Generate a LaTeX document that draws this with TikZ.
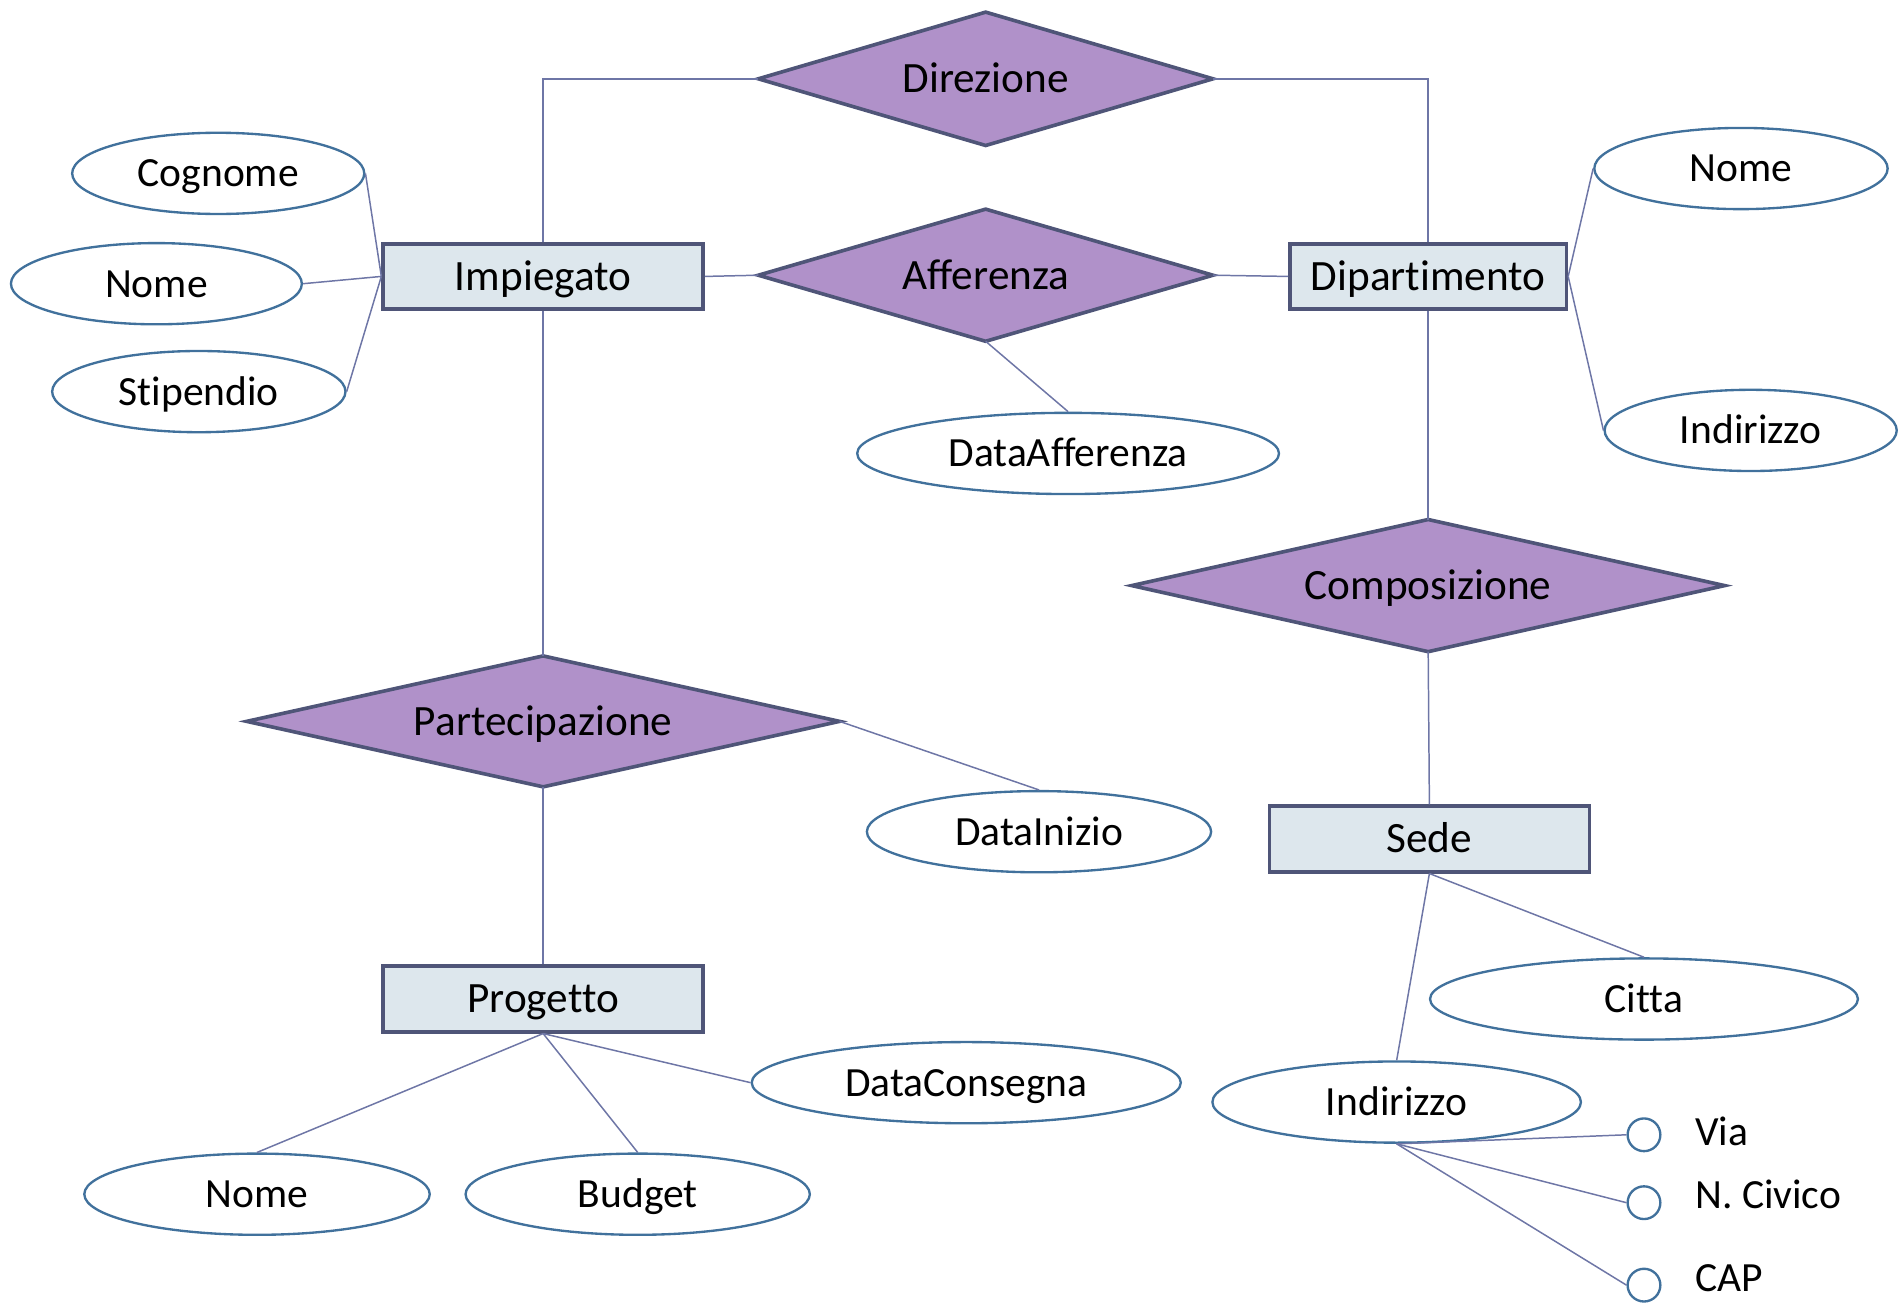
\documentclass[tikz,border=0pt]{standalone}
\usepackage{fontspec}
\setmainfont{Carlito}[Ligatures=NoCommon]
\usetikzlibrary{shapes.geometric}
\definecolor{relfill}{HTML}{B091C9}
\definecolor{shapeborder}{HTML}{4F5578}
\definecolor{entfill}{HTML}{DDE7ED}
\definecolor{ellborder}{HTML}{41719C}
\definecolor{linecol}{HTML}{6E76A6}
\tikzset{
  every node/.style={font=\fontsize{19.5}{23}\selectfont, inner sep=0pt, text height=12.6pt, text depth=0pt},
  boxfont/.style={font=\fontsize{20.3}{24}\selectfont, text height=13pt},
  entity/.style={rectangle, draw=shapeborder, fill=entfill, line width=1.7pt, minimum height=1.08cm, boxfont},
  relshape/.style={draw=shapeborder, fill=relfill, line width=1.7pt},
  reltext/.style={boxfont},
  attr/.style={ellipse, draw=ellborder, fill=white, line width=1.1pt, minimum height=1.34cm},
  subattr/.style={circle, draw=ellborder, fill=white, line width=1.1pt, minimum size=0.54cm, text height=0pt},
  conn/.style={draw=linecol, line width=0.7pt},
  lbl/.style={anchor=west}
}
% #1 name, #2 x, #3 y, #4 half width, #5 half height, #6 text
\newcommand\ERrel[6]{%
  \coordinate (#1N) at ({#2},{#3-#5});
  \coordinate (#1S) at ({#2},{#3+#5});
  \coordinate (#1W) at ({#2-#4},{#3});
  \coordinate (#1E) at ({#2+#4},{#3});
  \path[relshape] (#1N) -- (#1E) -- (#1S) -- (#1W) -- cycle;
  \node[reltext] (#1) at ({#2},{#3}) {#6};
}
\begin{document}
\begin{tikzpicture}[x=0.02cm, y=-0.02cm]
\useasboundingbox (0,0) rectangle (1568,1076);
% entities
\node[entity, minimum width=5.28cm] (imp) at (448,228) {Impiegato};
\node[entity, minimum width=4.56cm] (dip) at (1178,228) {Dipartimento};
\node[entity, minimum width=5.28cm] (prog) at (448,824) {Progetto};
\node[entity, minimum width=5.28cm] (sede) at (1179,692) {Sede};
% relationships
\ERrel{dir}{813}{65}{187.5}{55}{Direzione}
\ERrel{aff}{813}{227}{187.5}{54.5}{Afferenza}
\ERrel{comp}{1178}{483}{244.5}{54.5}{Composizione}
\ERrel{part}{448}{595}{244.5}{54}{Partecipazione}
% attributes
\node[attr, minimum width=4.82cm] (cog) at (180,143) {Cognome};
\node[attr, minimum width=4.80cm] (nomeL) at (129,234) {Nome};
\node[attr, minimum width=4.84cm] (stip) at (164,323) {Stipendio};
\node[attr, minimum width=6.96cm] (daff) at (881,374) {DataAfferenza};
\node[attr, minimum width=4.84cm] (nomeR) at (1436,139) {Nome};
\node[attr, minimum width=4.82cm] (indR) at (1444,355) {Indirizzo};
\node[attr, minimum width=5.68cm] (dini) at (857,686) {DataInizio};
\node[attr, minimum width=7.06cm] (citta) at (1356,824) {Citta};
\node[attr, minimum width=6.08cm] (indS) at (1152,909) {Indirizzo};
\node[attr, minimum width=7.08cm] (dcons) at (797,893) {DataConsegna};
\node[attr, minimum width=5.70cm] (nomeB) at (212,985) {Nome};
\node[attr, minimum width=5.68cm] (budget) at (526,985) {Budget};
% sub-attributes
\node[subattr] (via) at (1356,936) {};
\node[subattr] (civ) at (1356,992) {};
\node[subattr] (cap) at (1356,1060) {};
\node[lbl] (vial) at (1398,934) {Via};
\node[lbl] (civl) at (1398,986) {N. Civico};
\node[lbl] (capl) at (1398,1054) {CAP};
% connectors
\path[conn] (dirW) -| (imp.north);
\path[conn] (dirE) -| (dip.north);
\path[conn] (imp.east) -- (affW);
\path[conn] (affE) -- (dip.west);
\path[conn] (affS) -- (daff.north);
\path[conn] (cog.east) -- (imp.west);
\path[conn] (nomeL.east) -- (imp.west);
\path[conn] (stip.east) -- (imp.west);
\path[conn] (dip.east) -- (nomeR.west);
\path[conn] (dip.east) -- (indR.west);
\path[conn] (dip.south) -- (compN);
\path[conn] (compS) -- (sede.north);
\path[conn] (imp.south) -- (partN);
\path[conn] (partS) -- (prog.north);
\path[conn] (partE) -- (dini.north);
\path[conn] (sede.south) -- (citta.north);
\path[conn] (sede.south) -- (indS.north);
\path[conn] (prog.south) -- (nomeB.north);
\path[conn] (prog.south) -- (budget.north);
\path[conn] (prog.south) -- (dcons.west);
\path[conn] (indS.south) -- (via.west);
\path[conn] (indS.south) -- (civ.west);
\path[conn] (indS.south) -- (cap.west);
\end{tikzpicture}
\end{document}
